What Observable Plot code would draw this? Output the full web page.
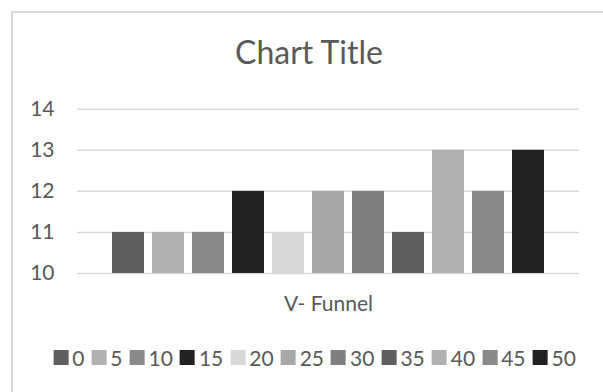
<!DOCTYPE html>
<html><head><meta charset="utf-8">
<script src="https://cdn.jsdelivr.net/npm/d3@7"></script>
<script src="https://cdn.jsdelivr.net/npm/@observablehq/plot@0.6"></script>
<style>
html,body{margin:0;padding:0;background:#fff;overflow:hidden}
#wrap{position:relative;width:603px;height:392px;font-family:Lato,"Open Sans",sans-serif;color:#595959}
#frame{position:absolute;left:11px;top:10.5px;width:640px;height:420px;border-left:2px solid #d9d9d9;border-top:2px solid #d9d9d9;box-sizing:border-box;pointer-events:none}
#title{position:relative;height:80px}
#title span{position:absolute;left:309px;top:35.5px;transform:translateX(-50%);font-size:32px;line-height:1;white-space:nowrap}
#chart{position:relative;height:250px}
#legend{position:absolute;left:314.5px;top:347px;transform:translateX(-50%);display:flex;align-items:center;font-size:21px;line-height:1;white-space:nowrap}
#legend .item{display:flex;align-items:center;margin-right:7px}
#legend .item:last-child{margin-right:0}
#legend .sw{width:15px;height:15px;margin-right:4px}
</style>
</head><body>
<div id="wrap">
  <div id="frame"></div>
  <div id="title"><span>Chart Title</span></div>
  <div id="chart"></div>
  <div id="legend"></div>
</div>
<script>
const category = ["V- Funnel"];
const series = ["0","5","10","15","20","25","30","35","40","45","50"];
const values = [11, 11, 11, 12, 11, 12, 12, 11, 13, 12, 13];
const colors = ["#5f5f5f","#b1b1b1","#8a8a8a","#222222","#d9d9d9","#a8a8a8","#7f7f7f","#5f5f5f","#b1b1b1","#8a8a8a","#222222"];
const yTicks = [10, 11, 12, 13, 14];

const data = series.map((s, i) => ({category: category[0], series: s, value: values[i]}));

const chart = Plot.plot({
  width: 603,
  height: 250,
  marginLeft: 77,
  marginRight: 24,
  marginTop: 28.7,
  marginBottom: 57,
  style: {fontFamily: "Lato, 'Open Sans', sans-serif", fontSize: "21px", color: "#595959", background: "transparent", overflow: "visible"},
  fx: {domain: category, padding: 0, label: null, axis: "bottom", tickSize: 0, tickPadding: 23},
  x: {domain: series, paddingInner: 0.2, paddingOuter: 0.875, axis: null},
  y: {domain: [10, 14], ticks: yTicks, tickSize: 0, tickPadding: 23, label: null, tickFormat: d => String(d)},
  color: {domain: series, range: colors},
  marks: [
    Plot.ruleY(yTicks, {stroke: "#d9d9d9", strokeOpacity: 1, strokeWidth: 1.5}),
    Plot.barY(data, {fx: "category", x: "series", y1: 10, y2: "value", fill: "series"})
  ]
});
document.getElementById("chart").appendChild(chart);

const legend = d3.select("#legend");
series.forEach((s, i) => {
  const it = legend.append("div").attr("class", "item");
  it.append("div").attr("class", "sw").style("background", colors[i]);
  it.append("span").text(s);
});
</script>
</body></html>
